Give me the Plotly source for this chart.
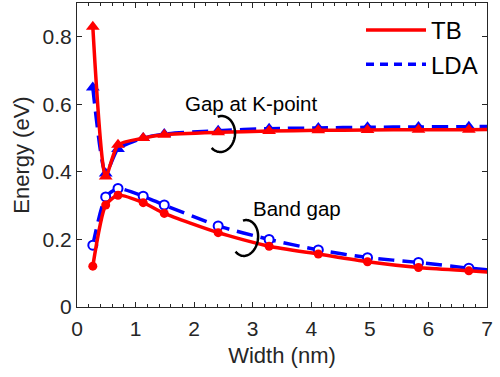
import numpy as np
import plotly.graph_objects as go

# ---- data ----
width_nm = [0.27, 0.49, 0.70, 1.13, 1.49, 2.41, 3.28, 4.12, 4.96, 5.83, 6.69, 7.55]
gapK_tb = [0.83, 0.386, 0.480, 0.500, 0.510, 0.517, 0.521, 0.523, 0.524, 0.525, 0.525, 0.526]
gapK_lda = [0.65, 0.395, 0.468, 0.500, 0.512, 0.522, 0.528, 0.530, 0.532, 0.533, 0.534, 0.535]
band_tb = [0.121, 0.302, 0.331, 0.309, 0.277, 0.220, 0.180, 0.157, 0.134, 0.117, 0.107, 0.097]
band_lda = [0.183, 0.326, 0.351, 0.328, 0.302, 0.240, 0.200, 0.169, 0.146, 0.132, 0.115, 0.103]

x_ticks = [0, 1, 2, 3, 4, 5, 6, 7]
y_ticks = [0, 0.2, 0.4, 0.6, 0.8]

RED = "#ff0000"
BLUE = "#0000ff"
FONT = "Liberation Sans, Arial, sans-serif"
INK = "#262626"

XR = [0, 7]
YR = [0, 0.9]
L, R, T, B = 77, 13, 3, 70
W, H = 500, 377
pw, ph = W - L - R, H - T - B


def px2data(px, py):
    return XR[0] + (px - L) / pw * (XR[1] - XR[0]), YR[0] + (T + ph - py) / ph * (YR[1] - YR[0])


def arc_path(cx, cy, rx, ry, a0, a1, tilt=0.0):
    ang = np.radians(np.linspace(a0, a1, 60))
    t = np.radians(tilt)
    xs = rx * np.cos(ang)
    ys = -ry * np.sin(ang)
    xr = cx + xs * np.cos(t) - ys * np.sin(t)
    yr = cy + xs * np.sin(t) + ys * np.cos(t)
    pts = [px2data(a, b) for a, b in zip(xr, yr)]
    return "M " + " L ".join(f"{a:.4f},{b:.4f}" for a, b in pts)


fig = go.Figure()

# LDA (blue dashed)
fig.add_trace(go.Scatter(x=width_nm, y=gapK_lda, mode="lines+markers", showlegend=False,
                         line=dict(color=BLUE, width=3.5, dash="16px,8px", shape="spline", smoothing=0.6),
                         marker=dict(symbol="triangle-up", size=12, color=BLUE)))
fig.add_trace(go.Scatter(x=width_nm, y=band_lda, mode="lines+markers", showlegend=False,
                         line=dict(color=BLUE, width=3.5, dash="16px,8px", shape="spline", smoothing=0.6),
                         marker=dict(symbol="circle", size=9, color="white", line=dict(color=BLUE, width=2))))
# TB (red solid)
fig.add_trace(go.Scatter(x=width_nm, y=gapK_tb, mode="lines+markers", showlegend=False,
                         line=dict(color=RED, width=3.5, shape="spline", smoothing=0.6),
                         marker=dict(symbol="triangle-up", size=12, color=RED)))
fig.add_trace(go.Scatter(x=width_nm, y=band_tb, mode="lines+markers", showlegend=False,
                         line=dict(color=RED, width=3.5, shape="spline", smoothing=0.6),
                         marker=dict(symbol="circle", size=9, color=RED)))

# legend entries
fig.add_trace(go.Scatter(x=[None], y=[None], mode="lines", name="TB",
                         line=dict(color=RED, width=3.5)))
fig.add_trace(go.Scatter(x=[None], y=[None], mode="lines", name="LDA",
                         line=dict(color=BLUE, width=3.5, dash="8px,6px")))

# annotations
tx, ty = px2data(250.5, 103)
fig.add_annotation(x=tx, y=ty, text="Gap at K-point", showarrow=False,
                   font=dict(family=FONT, size=20.5, color="black"), xanchor="center", yanchor="middle")
tx, ty = px2data(297, 208)
fig.add_annotation(x=tx, y=ty, text="Band gap", showarrow=False,
                   font=dict(family=FONT, size=20.5, color="black"), xanchor="center", yanchor="middle")

fig.add_shape(type="path", xref="x", yref="y", path=arc_path(221, 134, 14, 18, 110, -125, 5),
              line=dict(color="black", width=2.5))
fig.add_shape(type="path", xref="x", yref="y", path=arc_path(245, 238, 13, 18, 110, -125, 8),
              line=dict(color="black", width=2.5))

axis_common = dict(
    showline=True, linecolor=INK, linewidth=1, mirror="allticks",
    ticks="inside", ticklen=5, tickcolor=INK, tickwidth=1,
    showgrid=False, zeroline=False,
    tickfont=dict(family=FONT, size=21, color=INK),
)

fig.update_xaxes(range=XR, tickvals=x_ticks, **axis_common, ticklabelstandoff=3,
                 minor=dict(ticks="inside", ticklen=3, dtick=0.2, tickcolor=INK, showgrid=False),
                 title=dict(text="Width (nm)", font=dict(family=FONT, size=22, color=INK), standoff=8))
fig.update_yaxes(range=YR, tickvals=y_ticks, **axis_common,
                 title=dict(text="Energy (eV)", font=dict(family=FONT, size=22, color=INK), standoff=6))

fig.update_layout(
    width=W, height=H,
    margin=dict(l=L, r=R, t=T, b=B),
    plot_bgcolor="white", paper_bgcolor="white",
    font=dict(family=FONT, size=20, color=INK),
    legend=dict(x=(361 - L) / pw, y=1 - (8 - T) / ph, xanchor="left", yanchor="top",
                bgcolor="rgba(0,0,0,0)", borderwidth=0, itemwidth=60,
                font=dict(family=FONT, size=24, color="black"), tracegroupgap=0),
)

fig.write_html("out.html")
